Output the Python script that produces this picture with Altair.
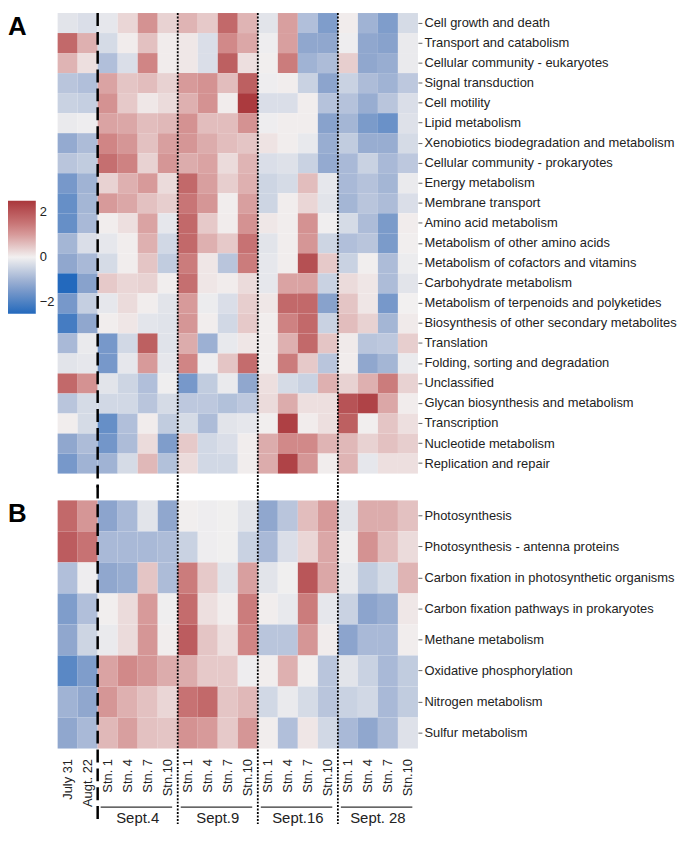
import altair as alt
import pandas as pd

stations = ["Stn. 1", "Stn. 4", "Stn. 7", "Stn.10"]
groups = ["Sept.4", "Sept.9", "Sept.16", "Sept. 28"]
columns = ["July 31", "Augt. 22"] + [g + "|" + s for g in groups for s in stations]

rows_a = [
    "Cell growth and death", "Transport and catabolism", "Cellular community - eukaryotes",
    "Signal transduction", "Cell motility", "Lipid metabolism",
    "Xenobiotics biodegradation and metabolism", "Cellular community - prokaryotes",
    "Energy metabolism", "Membrane transport", "Amino acid metabolism",
    "Metabolism of other amino acids", "Metabolism of cofactors and vitamins",
    "Carbohydrate metabolism", "Metabolism of terpenoids and polyketides",
    "Biosynthesis of other secondary metabolites", "Translation",
    "Folding, sorting and degradation", "Unclassified", "Glycan biosynthesis and metabolism",
    "Transcription", "Nucleotide metabolism", "Replication and repair",
]
vals_a = [
    [-0.2, -0.3, -0.15, 0.3, 1.1, 0.35, 0.7, 0.45, 1.7, 0.7, -0.2, 0.95, -0.8, -1.4, 0.05, -1.0, -1.4, -0.35],
    [1.7, 0.75, -0.35, 0.05, 0.55, 0.05, 0.1, -0.3, 1.2, 0.85, -0.05, 0.95, -1.2, -1.2, -0.05, -1.2, -1.3, -0.1],
    [0.7, 0.2, -0.8, -0.3, 1.25, 0.05, 0.1, -0.3, 1.85, 0.2, 0.02, 1.4, -1.0, -0.85, 0.4, -1.2, -1.1, -0.1],
    [-0.7, -0.8, 0.9, 0.5, 0.6, 0.35, 1.0, 1.1, 0.6, 1.85, -0.05, 0.03, -0.5, -1.25, -0.5, -0.85, -1.0, -0.65],
    [-0.5, -0.55, 1.1, 0.45, 0.1, 0.25, 0.75, 1.1, 0.05, 2.45, -0.3, -0.3, 0.03, -0.75, -0.75, -1.1, -0.7, -0.3],
    [-0.1, -0.05, 0.9, 0.85, 0.6, 0.65, 1.1, 0.6, 0.6, 1.1, -0.05, 0.03, 0.03, -1.3, -0.95, -1.45, -1.65, -0.25],
    [-1.15, -0.85, 1.25, 1.05, 0.55, 0.95, 1.05, 0.8, 0.6, 0.5, 0.15, 0.03, -0.12, -1.1, -0.6, -1.1, -1.1, -0.35],
    [-0.7, -0.6, 1.6, 1.3, 0.35, 1.05, 0.8, 0.9, 0.25, 0.7, -0.3, -0.25, -0.5, -1.15, -0.9, -0.5, -0.9, -0.65],
    [-1.5, -1.0, 0.35, 0.75, 1.0, 0.25, 1.7, 0.95, 0.4, 0.75, -0.45, -0.35, 0.6, -0.15, -0.9, -0.75, -0.95, -0.1],
    [-1.7, -0.95, 1.0, 0.85, 0.55, 0.4, 1.5, 1.05, 0.03, 0.95, -0.45, 0.03, 0.3, -0.2, -0.95, -0.7, -0.85, -0.3],
    [-1.7, -0.9, 0.03, 0.2, 0.9, -0.15, 1.7, 0.45, 0.05, 1.1, 0.1, 0.03, 1.1, -0.03, -0.35, -0.85, -1.45, 0.05],
    [-0.95, -0.3, -0.15, 0.03, 0.75, -0.4, 1.7, 0.75, 0.45, 1.55, -0.2, 0.03, 1.05, -0.45, -0.8, -0.7, -1.45, 0.02],
    [-1.2, -0.9, -0.35, 0.03, 0.5, -0.6, 1.4, 0.12, -0.7, 1.4, -0.15, 0.03, 2.1, 0.45, -0.5, 0.02, -0.85, -0.07],
    [-2.5, -1.3, 0.45, 0.3, 0.35, 0.02, 1.6, 0.12, 0.05, 0.25, -0.15, 0.9, 0.9, -0.5, 0.25, 0.12, -0.85, -0.2],
    [-1.5, -0.55, -0.15, 0.25, 0.03, -0.2, 1.0, -0.07, -0.3, 0.4, 0.1, 1.7, 1.7, -1.3, 0.5, 0.12, -1.5, 0.0],
    [-2.1, -1.2, 0.03, 0.12, -0.18, -0.22, 1.05, 0.03, -0.4, 0.45, 0.03, 1.3, 1.7, -0.5, 0.6, 0.35, -0.95, 0.07],
    [-0.9, -0.1, -1.5, -0.4, 1.85, -0.22, 0.8, -1.05, -0.12, 0.12, 0.03, 0.75, 1.7, 0.5, 0.07, -0.7, -0.65, 0.4],
    [-0.2, -0.15, -1.5, -0.15, 1.0, -0.15, 1.25, -0.05, 0.5, 1.65, 0.03, 1.4, 0.45, -0.7, 0.05, -1.2, -0.95, -0.1],
    [1.7, 1.1, -0.2, -0.45, -0.8, -0.04, -1.5, -0.6, -0.1, -1.2, 0.2, -0.35, -0.5, 0.75, 0.35, 0.75, 1.4, 0.35],
    [-0.7, -0.35, -0.4, -0.4, -0.7, -0.35, -0.65, -0.65, -0.78, -0.65, 0.25, 0.8, 0.2, 0.2, 2.05, 2.3, 0.85, 0.05],
    [0.03, -0.35, -1.7, -0.8, 0.05, -0.6, -0.35, -0.85, -0.2, -0.15, 0.02, 2.35, 0.05, 0.2, 1.85, 0.02, 0.5, 0.2],
    [-1.2, -0.85, -1.55, -0.85, 0.25, -1.4, 0.45, -0.4, -0.3, 0.03, 0.8, 1.2, 1.2, 0.7, 0.65, 0.35, 0.55, 0.4],
    [-1.5, -1.0, -1.0, -0.35, 0.65, -0.78, 0.25, -0.4, -0.4, 0.03, 0.8, 2.3, 1.05, 0.03, 0.7, -0.15, 0.2, 0.2],
]

rows_b = [
    "Photosynthesis", "Photosynthesis - antenna proteins",
    "Carbon fixation in photosynthetic organisms", "Carbon fixation pathways in prokaryotes",
    "Methane metabolism", "Oxidative phosphorylation", "Nitrogen metabolism", "Sulfur metabolism",
]
vals_b = [
    [1.7, 1.05, -1.25, -0.9, -0.2, -1.2, 0.02, -0.05, -0.02, -0.2, -1.2, -0.7, 0.6, 1.0, -0.2, 0.8, 0.8, 0.55],
    [1.9, 1.55, -0.9, -0.9, -0.9, -0.85, -0.5, -0.05, -0.02, -0.5, -0.9, -0.3, 0.3, 0.85, -0.04, 1.1, 0.6, 0.25],
    [-0.8, -0.05, -1.2, -1.1, 0.5, -0.85, 1.4, 0.45, -0.2, 0.95, -0.2, -0.02, 2.0, 0.85, -0.12, -0.6, -0.35, 0.7],
    [-1.4, -0.8, 0.02, 0.25, 1.0, -0.04, 1.65, 0.2, 0.03, 1.4, 0.03, -0.12, 1.4, -0.15, -0.5, -1.25, -1.1, 0.1],
    [-1.2, -0.45, -0.1, 0.25, 1.05, 0.03, 1.9, 0.5, 0.2, 1.25, -0.7, -0.7, 1.05, 0.05, -1.25, -0.9, -0.9, 0.03],
    [-1.85, -1.4, 0.9, 1.2, 1.05, 0.8, 0.8, 0.45, 0.45, -0.05, 0.03, 0.75, 0.02, -0.7, -0.2, -0.5, -0.9, -0.6],
    [-1.0, -1.2, 1.05, 0.75, 0.55, 0.3, 1.55, 1.7, 0.5, 0.65, -0.4, -0.1, -0.35, -0.7, -0.5, -0.4, -0.9, -0.6],
    [-1.2, -0.9, 0.65, 0.95, 0.55, 0.5, 1.1, 1.0, 0.45, 1.05, 0.03, -0.8, 0.12, -0.4, -0.9, -1.2, -0.85, -0.25],
]

dashed_at = ["Sept.4|Stn. 1"]
dotted_at = ["Sept.9|Stn. 1", "Sept.16|Stn. 1", "Sept. 28|Stn. 1"]

FONT = "Liberation Sans"
W = 363
HA = 464
HB = 250
GAP = 27
LX = -50


def melt(rows, vals):
    recs = []
    for r, row in zip(rows, vals):
        for c, v in zip(columns, row):
            recs.append({"row": r, "col": c, "v": v})
    return pd.DataFrame(recs)


df_a = melt(rows_a, vals_a)
df_b = melt(rows_b, vals_b)

xscale = alt.Scale(type="band", domain=columns, paddingInner=0, paddingOuter=0)
cscale = alt.Scale(domain=[-2.5, -1.25, 0, 1.25, 2.5],
                   range=["#2369bd", "#8ca4cd", "#f2f0f0", "#d08585", "#a9373b"],
                   interpolate="rgb", clamp=True)
legend = alt.Legend(orient="none", legendX=LX, legendY=189, direction="vertical",
                    gradientLength=114, gradientThickness=28, values=[-2, 0, 2],
                    labelFontSize=13, labelFont=FONT, labelColor="#222",
                    gradientStrokeWidth=0, labelOffset=4)

yaxis = alt.Axis(orient="right", title=None, tickSize=4, labelPadding=2, domain=False,
                 labelLimit=400, labelFontSize=13, labelFont=FONT, labelColor="#222",
                 tickColor="#666")


def heat(df, rows, xaxis):
    return alt.Chart(df).mark_rect().encode(
        x=alt.X("col:N", scale=xscale, axis=xaxis, title=None),
        y=alt.Y("row:N", scale=alt.Scale(type="band", domain=rows, paddingInner=0, paddingOuter=0),
                axis=yaxis, title=None),
        color=alt.Color("v:Q", scale=cscale, legend=legend, title=None),
    )


def vlines(y0, y1, xaxis):
    d1 = alt.Chart(pd.DataFrame({"col": dashed_at})).mark_rule(
        color="black", strokeWidth=2.5, strokeDash=[13, 6]
    ).encode(x=alt.X("col:N", scale=xscale, bandPosition=0, axis=xaxis, title=None),
             y=alt.value(y0), y2=alt.value(y1))
    d2 = alt.Chart(pd.DataFrame({"col": dotted_at})).mark_rule(
        color="black", strokeWidth=1.8, strokeDash=[2, 1.5]
    ).encode(x=alt.X("col:N", scale=xscale, bandPosition=0, axis=xaxis, title=None),
             y=alt.value(y0), y2=alt.value(y1))
    return [d1, d2]


def panel_letter(letter, y):
    return alt.Chart(pd.DataFrame({"t": [letter]})).mark_text(
        font=FONT, fontSize=26, fontWeight="bold", align="left", baseline="alphabetic", color="black"
    ).encode(x=alt.value(LX), y=alt.value(y), text="t:N")


panel_a = alt.layer(
    heat(df_a, rows_a, None),
    *vlines(0, HA + GAP // 2 + 1, None),
    panel_letter("A", 22),
).properties(width=W, height=HA)

xaxis_b = alt.Axis(orient="bottom", labelAngle=-90, ticks=False, domain=False, labelPadding=10,
                   labelFontSize=13, labelFont=FONT, labelColor="#222",
                   labelExpr="indexof(datum.value, '|') >= 0 ? split(datum.value, '|')[1] : datum.value")

grp_df = pd.DataFrame({
    "label": groups,
    "mid": [g + "|Stn. 7" for g in groups],
    "start": [g + "|Stn. 1" for g in groups],
    "end": [g + "|Stn.10" for g in groups],
})

grp_text = alt.Chart(grp_df).mark_text(
    font=FONT, fontSize=15, color="#222", baseline="middle", align="center"
).encode(x=alt.X("mid:N", scale=xscale, bandPosition=0, axis=xaxis_b, title=None),
         y=alt.value(HB + 70), text="label:N")

grp_line = alt.Chart(grp_df).mark_rule(color="#333", strokeWidth=1.2).encode(
    x=alt.X("start:N", scale=xscale, bandPosition=0.15, axis=xaxis_b, title=None),
    x2=alt.X2("end:N", bandPosition=0.72),
    y=alt.value(HB + 59),
)

panel_b = alt.layer(
    heat(df_b, rows_b, xaxis_b),
    *vlines(-GAP // 2 - 1, HB + 76, xaxis_b),
    grp_line,
    grp_text,
    panel_letter("B", 22),
).properties(width=W, height=HB)

chart = alt.vconcat(panel_a, panel_b, spacing=GAP, bounds="flush").properties(
    padding=0
).configure_view(stroke=None).configure_axis(labelFont=FONT)

chart.save("out.html", embed_options={"renderer": "svg", "actions": False})
